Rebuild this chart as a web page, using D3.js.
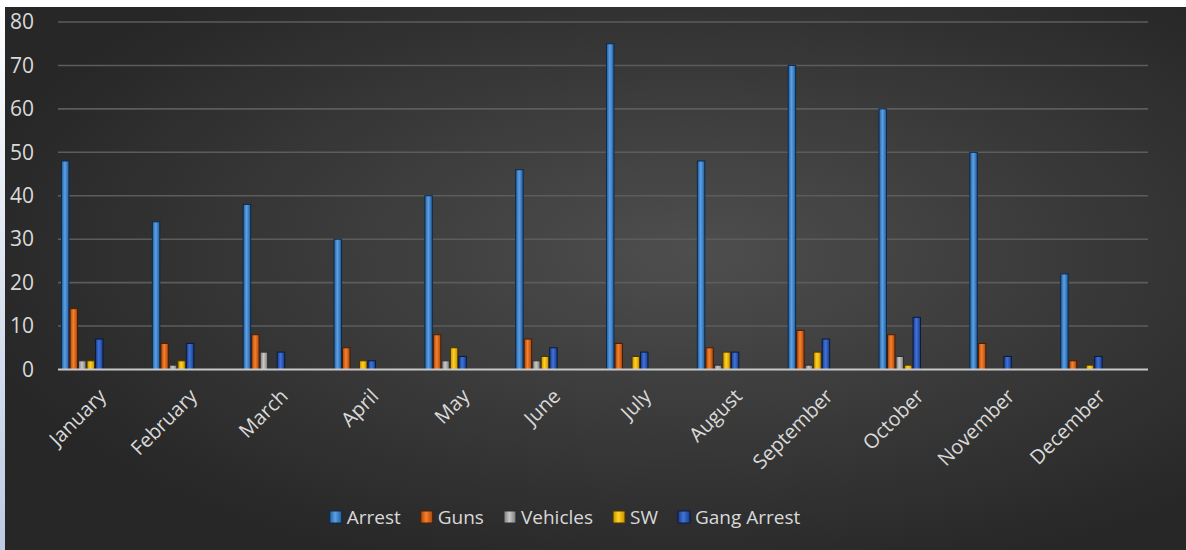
<!DOCTYPE html>
<html>
<head>
<meta charset="utf-8">
<script src="https://cdn.jsdelivr.net/npm/d3@7"></script>
<style>
  html, body { margin: 0; padding: 0; background: #fff; }
  svg { display: block; }
  text { font-family: "Open Sans", "Liberation Sans", sans-serif; fill: #d9d9d9; }
</style>
</head>
<body>
<div id="chart"></div>
<script>
// data
const months = ["January", "February", "March", "April", "May", "June", "July",
  "August", "September", "October", "November", "December"];
const series = ["Arrest", "Guns", "Vehicles", "SW", "Gang Arrest"];
const arrest = [48, 34, 38, 30, 40, 46, 75, 48, 70, 60, 50, 22];
const guns = [14, 6, 8, 5, 8, 7, 6, 5, 9, 8, 6, 2];
const vehicles = [2, 1, 4, 0, 2, 2, 0, 1, 1, 3, 0, 0];
const sw = [2, 2, 0, 2, 5, 3, 3, 4, 4, 1, 0, 1];
const gangArrest = [7, 6, 4, 2, 3, 5, 4, 4, 7, 12, 3, 3];
const yTicks = [0, 10, 20, 30, 40, 50, 60, 70, 80];

const values = [arrest, guns, vehicles, sw, gangArrest];
const colors = [
  {light: "#5ea0e6", dark: "#1f5c99", stroke: "#0d2a4a"},
  {light: "#f5822c", dark: "#a8440c", stroke: "#4a1c04"},
  {light: "#c8c8c8", dark: "#7a7a7a", stroke: "#2e2e2e"},
  {light: "#ffd225", dark: "#c48f00", stroke: "#4a3500"},
  {light: "#3f73d6", dark: "#1a3c8c", stroke: "#0a1a40"}
];

const W = 1186, H = 550;
const margin = {top: 22, right: 38, bottom: 180.5, left: 58};

const svg = d3.select("#chart").append("svg")
    .attr("width", W)
    .attr("height", H);

const defs = svg.append("defs");

const bg = defs.append("radialGradient")
    .attr("id", "bg")
    .attr("cx", "58%").attr("cy", "45%").attr("r", "62%");
bg.append("stop").attr("offset", "0%").attr("stop-color", "#4e4e4e");
bg.append("stop").attr("offset", "100%").attr("stop-color", "#272727");

const strip = defs.append("linearGradient")
    .attr("id", "strip")
    .attr("x1", 0).attr("y1", 0).attr("x2", 0).attr("y2", 1);
strip.append("stop").attr("offset", "0%").attr("stop-color", "#ffffff");
strip.append("stop").attr("offset", "100%").attr("stop-color", "#bccbe3");

colors.forEach((c, i) => {
  const g = defs.append("linearGradient")
      .attr("id", "bar" + i)
      .attr("x1", 0).attr("y1", 0).attr("x2", 1).attr("y2", 0);
  g.append("stop").attr("offset", "0%").attr("stop-color", c.dark);
  g.append("stop").attr("offset", "45%").attr("stop-color", c.light);
  g.append("stop").attr("offset", "100%").attr("stop-color", c.dark);
});

// page edges and chart background
svg.append("rect")
    .attr("x", 0).attr("y", 0)
    .attr("width", 5).attr("height", H)
    .attr("fill", "url(#strip)");

svg.append("rect")
    .attr("x", 5).attr("y", 7)
    .attr("width", W - 5).attr("height", H - 7)
    .attr("fill", "url(#bg)");

const x0 = d3.scaleBand()
    .domain(months)
    .range([margin.left, W - margin.right]);

const x1 = d3.scaleBand()
    .domain(series)
    .range([3.5, 45])
    .paddingInner(0.12);

const y = d3.scaleLinear()
    .domain([0, 80])
    .range([H - margin.bottom, margin.top]);

// gridlines
svg.append("g")
    .selectAll("line")
    .data(yTicks.filter(d => d > 0))
    .join("line")
    .attr("x1", margin.left)
    .attr("x2", W - margin.right)
    .attr("y1", d => y(d))
    .attr("y2", d => y(d))
    .attr("stroke", "#5c5c5c")
    .attr("stroke-width", 1.6);

// y axis labels
const yAxis = d3.axisLeft(y)
    .tickValues(yTicks)
    .tickSize(0)
    .tickPadding(20);

svg.append("g")
    .attr("transform", `translate(${margin.left - 4},0)`)
    .call(yAxis)
    .call(g => g.select(".domain").remove())
    .call(g => g.selectAll("text")
        .attr("font-size", 21)
        .attr("fill", "#d9d9d9")
        .attr("font-family", "'Open Sans', sans-serif"));

// bars
const groups = svg.append("g")
  .selectAll("g")
  .data(months)
  .join("g")
    .attr("transform", d => `translate(${x0(d)},0)`);

groups.selectAll("rect")
  .data((m, i) => series.map((s, k) => ({s: s, k: k, v: values[k][i]})))
  .join("rect")
    .filter(d => d.v > 0)
    .attr("x", d => x1(d.s))
    .attr("y", d => y(d.v))
    .attr("width", x1.bandwidth())
    .attr("height", d => y(0) - y(d.v))
    .attr("fill", d => `url(#bar${d.k})`)
    .attr("stroke", d => colors[d.k].stroke)
    .attr("stroke-width", 1);

// zero line
svg.append("line")
    .attr("x1", margin.left)
    .attr("x2", W - margin.right)
    .attr("y1", y(0))
    .attr("y2", y(0))
    .attr("stroke", "#c8c8c8")
    .attr("stroke-width", 2.2);

// month labels
svg.append("g")
  .selectAll("text")
  .data(months)
  .join("text")
    .attr("transform", d => `translate(${x0(d) + x0.bandwidth() / 2 + 4},${y(0) + 28}) rotate(-45)`)
    .attr("text-anchor", "end")
    .attr("font-size", 20)
    .attr("fill", "#d9d9d9")
    .text(d => d);

// legend
const legend = svg.append("g")
    .attr("transform", `translate(0,517)`);

const items = legend.selectAll("g")
  .data(series)
  .join("g");

items.append("rect")
    .attr("x", 0).attr("y", -6)
    .attr("width", 12).attr("height", 12)
    .attr("fill", (d, i) => `url(#bar${i})`)
    .attr("stroke", (d, i) => colors[i].stroke);

items.append("text")
    .attr("x", 17)
    .attr("dy", "0.35em")
    .attr("font-size", 19)
    .attr("fill", "#d9d9d9")
    .text(d => d);

let pos = 0;
const offs = [];
items.each(function() {
  offs.push(pos);
  pos += 17 + d3.select(this).select("text").node().getComputedTextLength() + 20;
});
const total = pos - 20;
const start = 565 - total / 2;
items.attr("transform", (d, i) => `translate(${start + offs[i]},0)`);
</script>
</body>
</html>
